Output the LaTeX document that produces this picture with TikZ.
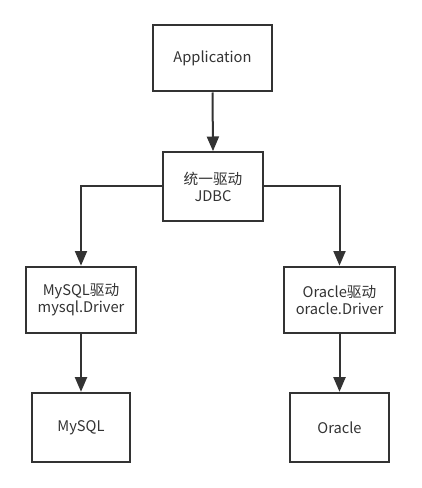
\documentclass[tikz,border=0pt]{standalone}
\usepackage{fontspec}
\setmainfont{Noto Sans CJK SC}
\usetikzlibrary{arrows.meta}
\definecolor{ink}{HTML}{333333}
\begin{document}
\begin{tikzpicture}[x=0.75pt,y=-0.75pt,
  box/.style={draw=ink,line width=1.5pt,text=ink,align=center,inner sep=0pt,
    font=\fontsize{11}{12.8}\selectfont},
  link/.style={draw=ink,line width=1.5pt,-{Triangle[width=9pt,length=11pt]}}]
\useasboundingbox[fill=white] (0,0) rectangle (421,488);
\node[box,minimum width=89pt,minimum height=49.5pt] (app) at (212.5,58.5) {Application};
\node[box,minimum width=75pt,minimum height=51.5pt] (jdbc) at (213,186.5) {统一驱动\\JDBC};
\node[box,minimum width=83pt,minimum height=50pt] (mysqld) at (81,300) {MySQL驱动\\mysql.Driver};
\node[box,minimum width=83.5pt,minimum height=50pt] (oracled) at (339.5,300) {Oracle驱动\\oracle.Driver};
\node[box,minimum width=74pt,minimum height=52pt] (mysql) at (81,427.5) {MySQL};
\node[box,minimum width=74pt,minimum height=52pt] (oracle) at (339.5,427.5) {Oracle};
\draw[link] (app.south) -- (jdbc.north);
\draw[link] (jdbc.west) -| (mysqld.north);
\draw[link] (jdbc.east) -| (oracled.north);
\draw[link] (mysqld.south) -- (mysql.north);
\draw[link] (oracled.south) -- (oracle.north);
\end{tikzpicture}
\end{document}
